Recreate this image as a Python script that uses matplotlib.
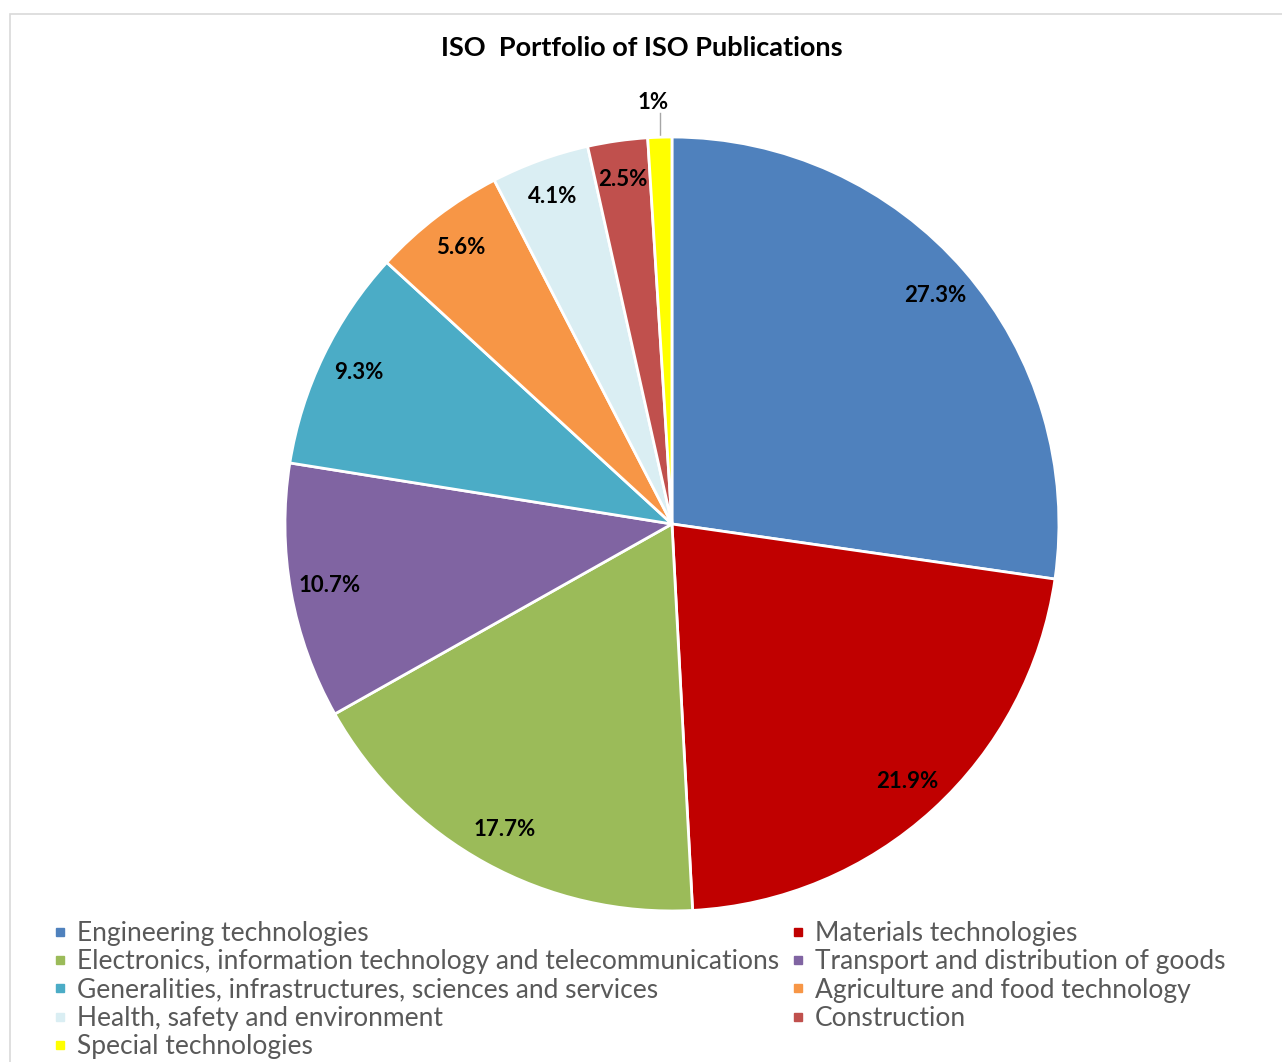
import matplotlib.pyplot as plt
from matplotlib.lines import Line2D
from matplotlib.patches import Rectangle
import numpy as np

plt.rcParams['font.family'] = ['Lato', 'DejaVu Sans']

categories = ["Engineering technologies", "Materials technologies",
              "Electronics, information technology and telecommunications",
              "Transport and distribution of goods",
              "Generalities, infrastructures, sciences and services",
              "Agriculture and food technology",
              "Health, safety and environment", "Construction",
              "Special technologies"]
values = [27.3, 21.9, 17.7, 10.7, 9.3, 5.6, 4.1, 2.5, 1]
labels = ["27.3%", "21.9%", "17.7%", "10.7%", "9.3%", "5.6%", "4.1%", "2.5%", "1%"]
colors = ["#4F81BD", "#C00000", "#9BBB59", "#8064A2", "#4BACC6",
          "#F79646", "#DAEEF3", "#C0504D", "#FFFF00"]

fig = plt.figure(figsize=(12.82, 10.62), dpi=100)
# chart border
fig.patches.append(Rectangle((10 / 1282, -0.1), 1.2, (1062 - 14) / 1062 + 0.1,
                             transform=fig.transFigure, fill=False,
                             edgecolor="#D9D9D9", linewidth=1.2))

ax = fig.add_axes([0.2223, 0.1422, 0.6037, 0.7288])
wedges, _ = ax.pie(values, colors=colors, startangle=90, counterclock=False,
                   wedgeprops=dict(edgecolor="white", linewidth=2))
ax.set_xlim(-1, 1)
ax.set_ylim(-1, 1)
ax.set_aspect("equal")

for i, w in enumerate(wedges):
    ang = np.deg2rad((w.theta1 + w.theta2) / 2)
    if i == len(wedges) - 1:
        # outside label with a leader line
        x0 = np.cos(ang)
        ax.plot([x0, x0], [np.sin(ang), 1.062], color="#A6A6A6", lw=1,
                clip_on=False, zorder=0)
        ax.text(x0 - 0.018, 1.088, labels[i], ha="center", va="center",
                fontsize=16, fontweight="bold")
    else:
        r = 0.9
        ax.text(r * np.cos(ang), r * np.sin(ang), labels[i], ha="center",
                va="center", fontsize=16, fontweight="bold", color="black")

fig.text(0.5004, 1 - 48 / 1062, "ISO  Portfolio of ISO Publications",
         ha="center", va="center", fontsize=19.5, fontweight="bold")

order = [0, 2, 4, 6, 8, 1, 3, 5, 7]
handles = [Line2D([], [], marker="s", linestyle="", markersize=5.5,
                  color=colors[i]) for i in order]
fig.legend(handles, [categories[i] for i in order], ncol=2,
           loc="upper left", bbox_to_anchor=(52 / 1282, 1 - 921 / 1062),
           frameon=False, fontsize=19, labelcolor="#595959",
           handlelength=0.6, handletextpad=0.35, columnspacing=0.4,
           labelspacing=0.125, borderpad=0, borderaxespad=0)

fig.savefig("out.png", dpi=100)
